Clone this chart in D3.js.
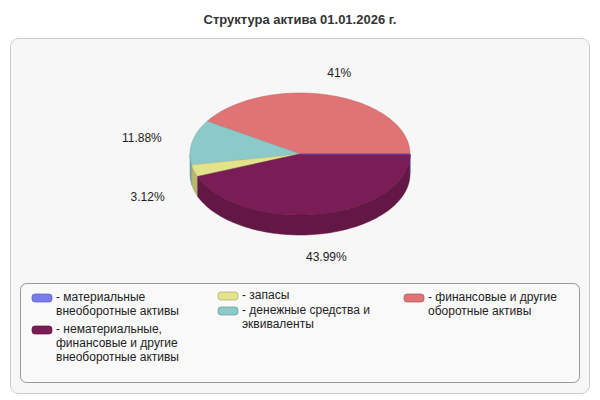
<!DOCTYPE html>
<html><head><meta charset="utf-8">
<script src="https://cdn.jsdelivr.net/npm/d3@7"></script>
<style>body{margin:0;background:#fff;font-family:"Liberation Sans",Arial,sans-serif}</style>
</head><body>
<svg id="chart" width="600" height="400"></svg>
<script>
const categories = ["материальные внеоборотные активы", "нематериальные, финансовые и другие внеоборотные активы", "запасы", "денежные средства и эквиваленты", "финансовые и другие оборотные активы"];
const values = [0.01, 43.99, 3.12, 11.88, 41];
const labels = ["", "43.99%", "3.12%", "11.88%", "41%"];
const colors = ["#7b7bef", "#7a1c55", "#e3e38c", "#8ccaca", "#e07373"];
const legendLines = [["- материальные", "внеоборотные активы"], ["- нематериальные,", "финансовые и другие", "внеоборотные активы"], ["- запасы"], ["- денежные средства и", "эквиваленты"], ["- финансовые и другие", "оборотные активы"]];

const svg = d3.select("#chart");
svg.append("text").attr("x", 300).attr("y", 24).attr("text-anchor", "middle")
  .style("font-size", "13px").style("font-weight", "bold").attr("fill", "#333")
  .text("Структура актива 01.01.2026 г.");
svg.append("rect").attr("x", 10.5).attr("y", 38.5).attr("width", 579).attr("height", 355)
  .attr("rx", 8).attr("fill", "#f7f7f7").attr("stroke", "#ccc");

/* pie geometry, angles counterclockwise from east */
const cx = 300, cy = 154, rx = 110, ry = 61, depth = 20;
const order = [4, 3, 2, 1, 0];
const angle = d3.scaleLinear().domain([0, d3.sum(values)]).range([0, 2 * Math.PI]);
let acc = 0;
const slices = order.map(i => { const s = { i, a0: angle(acc) }; acc += values[i]; s.a1 = angle(acc); return s; });
const pt = (a, dy = 0) => [cx + rx * Math.cos(a), cy - ry * Math.sin(a) + dy];

function arcPts(a0, a1, dy) {
  const n = Math.max(2, Math.ceil((a1 - a0) / 0.03));
  return d3.range(n + 1).map(k => pt(a0 + (a1 - a0) * k / n, dy));
}
const line = d3.line();

/* side walls (front half: angles PI..2PI) */
slices.forEach(s => {
  const a0 = Math.max(s.a0, Math.PI), a1 = Math.min(s.a1, 2 * Math.PI);
  if (a1 <= a0) return;
  const pts = arcPts(a0, a1, 0).concat(arcPts(a0, a1, depth).reverse());
  svg.append("path").attr("d", line(pts) + "Z")
    .attr("fill", d3.color(colors[s.i]).darker(0.6)).attr("stroke", d3.color(colors[s.i]).darker(0.9)).attr("stroke-width", 0.5);
});
/* top faces */
slices.forEach(s => {
  const pts = [[cx, cy]].concat(arcPts(s.a0, s.a1, 0));
  svg.append("path").attr("d", line(pts) + "Z")
    .attr("fill", colors[s.i]).attr("stroke", d3.color(colors[s.i]).darker(0.5)).attr("stroke-width", 0.5);
});
/* labels */
slices.forEach(s => {
  if (!labels[s.i]) return;
  const m = (s.a0 + s.a1) / 2;
  const x = cx + rx * 1.28 * Math.cos(m);
  const y = cy - ry * 1.38 * Math.sin(m) + (Math.sin(m) < 0 ? depth + 4 : 4);
  svg.append("text").attr("x", x).attr("y", y)
    .attr("text-anchor", Math.cos(m) < -0.3 ? "end" : (Math.cos(m) > 0.3 ? "start" : "middle"))
    .style("font-size", "12px").attr("fill", "#222").text(labels[s.i]);
});

/* legend */
svg.append("rect").attr("x", 20.5).attr("y", 283.5).attr("width", 559).attr("height", 99)
  .attr("rx", 6).attr("fill", "#f9f9f9").attr("stroke", "#999");
const legendPos = [[32, 297], [32, 329], [218, 295], [218, 310], [404, 297]];
legendLines.forEach((ls, i) => {
  const [x, y] = legendPos[i];
  svg.append("rect").attr("x", x).attr("y", y - 3).attr("width", 20).attr("height", 8).attr("rx", 3)
    .attr("fill", colors[i]).attr("stroke", d3.color(colors[i]).darker(0.8)).attr("stroke-width", 0.7);
  const t = svg.append("text").attr("x", x + 24).attr("y", y + 4).style("font-size", "12px").attr("fill", "#222");
  ls.forEach((l, k) => t.append("tspan").attr("x", x + 24).attr("dy", k ? 14 : 0).text(l));
});
</script>
</body></html>
